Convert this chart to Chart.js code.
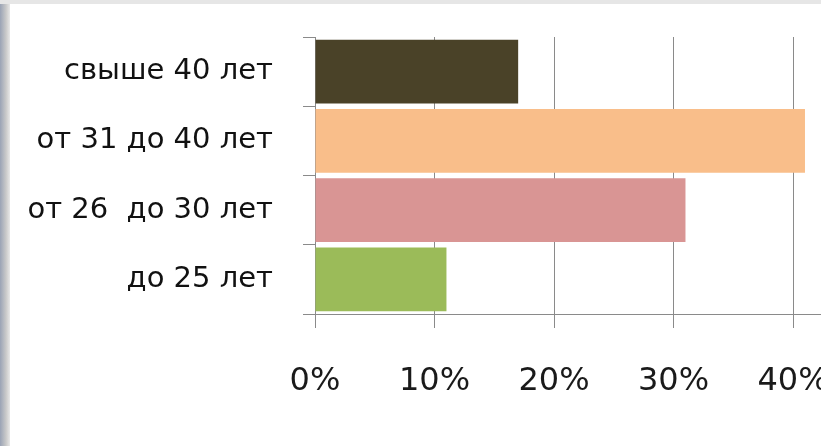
<!DOCTYPE html>
<html>
<head>
<meta charset="utf-8">
<script src="https://cdn.jsdelivr.net/npm/chart.js@4"></script>
<style>
  html, body { margin: 0; padding: 0; background: #fff; }
  #wrap { position: relative; width: 821px; height: 446px; }
  #edge { position: absolute; left: 0; top: 0; width: 10px; height: 446px;
          background: linear-gradient(to right, #9aa3b5, #c9c9c9 60%, #e8e8e8); }
  #topedge { position: absolute; left: 0; top: 0; width: 821px; height: 4px; background: #e6e6e6; }
  canvas { position: absolute; left: 0; top: 0; }
</style>
</head>
<body>
<div id="wrap">
  <canvas id="c" width="821" height="446"></canvas>
  <div id="edge"></div>
  <div id="topedge"></div>
</div>
<script>
const categories = ["свыше 40 лет", "от 31 до 40 лет", "от 26  до 30 лет", "до 25 лет"];
const values = [0.17, 0.41, 0.31, 0.11];
const barColors = ["#4a4228", "#f9be8a", "#d99594", "#9bbb59"];
const xTicks = [0, 0.1, 0.2, 0.3, 0.4];

const fontFamily = "'DejaVu Sans', sans-serif";

new Chart(document.getElementById("c"), {
  type: "bar",
  data: {
    labels: categories,
    datasets: [{
      data: values,
      backgroundColor: barColors,
      borderWidth: 0,
      barPercentage: 0.92,
      categoryPercentage: 1.0
    }]
  },
  options: {
    indexAxis: "y",
    responsive: false,
    animation: false,
    devicePixelRatio: 1,
    layout: { padding: { left: 0, right: 0, top: 37, bottom: 0 } },
    plugins: { legend: { display: false }, tooltip: { enabled: false } },
    scales: {
      x: {
        min: 0,
        max: 0.4234,
        afterBuildTicks: (s) => { s.ticks = xTicks.map(v => ({ value: v })); },
        afterFit: (s) => { s.height = 132; s.paddingLeft = 0; s.paddingRight = 0; },
        grid: { color: "#8a8a8a", lineWidth: 1, tickLength: 14, drawTicks: true },
        border: { color: "#8a8a8a", width: 1 },
        ticks: {
          padding: 34,
          maxRotation: 0,
          autoSkip: false,
          color: "#1a1a1a",
          font: { family: fontFamily, size: 32 },
          callback: (v) => Math.round(v * 100) + "%"
        }
      },
      y: {
        afterFit: (s) => { s.width = 315; s.paddingTop = 0; s.paddingBottom = 0; },
        grid: { drawOnChartArea: false, drawTicks: true, tickLength: 12, color: "#8a8a8a" },
        border: { color: "#8a8a8a", width: 1 },
        ticks: {
          padding: 30,
          color: "#111",
          font: { family: fontFamily, size: 29 }
        }
      }
    }
  }
});
</script>
</body>
</html>
